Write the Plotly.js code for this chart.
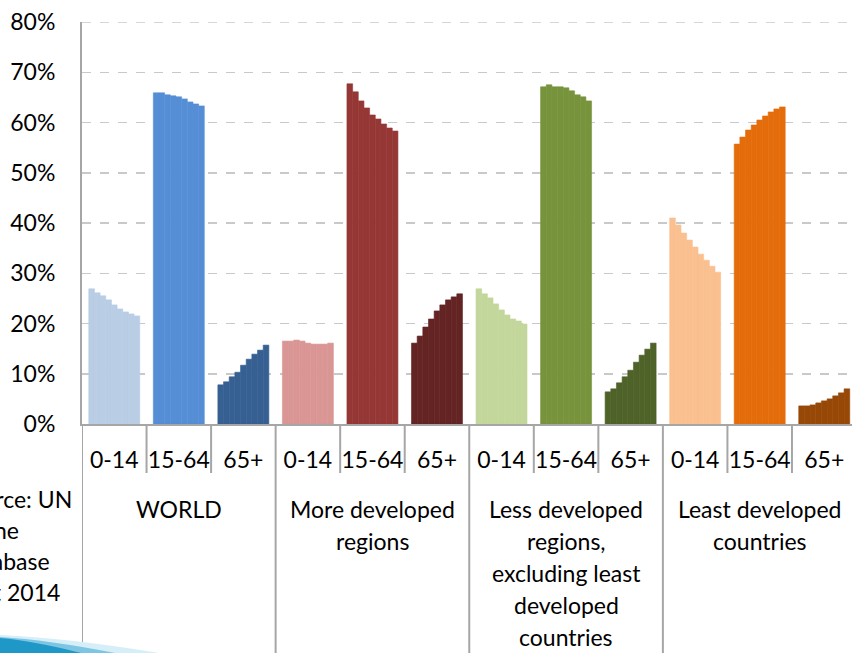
<!DOCTYPE html>
<html>
<head>
<meta charset="utf-8">
<script src="https://cdn.plot.ly/plotly-3.0.1.min.js"></script>
<style>
html, body { margin: 0; padding: 0; background: #ffffff; overflow: hidden; }
#chart { width: 852px; height: 653px; }
</style>
</head>
<body>
<div id="chart"></div>
<script>
// ---- Data ----
const years = ['2010', '2015', '2020', '2025', '2030', '2035', '2040', '2045', '2050'];
const groups = ['WORLD', 'More developed regions', 'Less developed regions, excluding least developed countries', 'Least developed countries'];
const groupLabelLines = [
  ['WORLD'],
  ['More developed', 'regions'],
  ['Less developed', 'regions,', 'excluding least', 'developed', 'countries'],
  ['Least developed', 'countries']
];
const ages = ['0-14', '15-64', '65+'];

const world_0_14   = [26.9, 26.1, 25.5, 24.7, 23.7, 22.9, 22.3, 21.9, 21.5];
const world_15_64  = [65.9, 65.9, 65.5, 65.3, 65.1, 64.7, 64.1, 63.7, 63.3];
const world_65     = [7.8, 8.4, 9.4, 10.3, 11.7, 12.9, 13.9, 14.7, 15.7];

const moreDev_0_14  = [16.5, 16.5, 16.7, 16.5, 16.1, 15.9, 15.9, 15.9, 16.1];
const moreDev_15_64 = [67.7, 66.1, 64.3, 62.9, 61.5, 60.7, 59.7, 58.9, 58.3];
const moreDev_65    = [16.1, 17.5, 19.3, 20.9, 22.5, 23.7, 24.7, 25.3, 25.9];

const lessDev_0_14  = [26.9, 25.9, 25.1, 23.9, 22.7, 21.7, 20.9, 20.5, 19.9];
const lessDev_15_64 = [67.1, 67.5, 67.1, 67.1, 66.9, 66.3, 65.5, 65.1, 64.3];
const lessDev_65    = [6.4, 7.0, 8.2, 9.4, 10.7, 12.3, 13.7, 14.9, 16.1];

const leastDev_0_14  = [41.0, 39.6, 38.0, 36.6, 35.2, 33.8, 32.6, 31.4, 30.2];
const leastDev_15_64 = [55.7, 57.1, 58.5, 59.5, 60.5, 61.3, 62.1, 62.7, 63.1];
const leastDev_65    = [3.6, 3.6, 3.8, 4.2, 4.6, 5.0, 5.6, 6.2, 7.0];

const seriesByCategory = [
  world_0_14, world_15_64, world_65,
  moreDev_0_14, moreDev_15_64, moreDev_65,
  lessDev_0_14, lessDev_15_64, lessDev_65,
  leastDev_0_14, leastDev_15_64, leastDev_65
];
const categoryColors = [
  '#B9CDE5', '#558ED5', '#376092',
  '#D99694', '#953735', '#632423',
  '#C3D69B', '#77933C', '#4F6228',
  '#FAC090', '#E46C0A', '#974806'
];
const sourceLines = ['Source: UN', 'Online', 'Database', 'August 2014'];

// ---- Layout geometry (pixels) ----
const W = 852, H = 653;
const M = { l: 82, r: 0, t: 22, b: 229 };
const plotW = W - M.l - M.r, plotH = H - M.t - M.b;
const px2x = px => (px - M.l) / plotW;
const py2y = py => (H - M.b - py) / plotH;

const FONT = 'Lato, "Open Sans", sans-serif';

// category ids
const catIds = [];
const catTicks = [];
groups.forEach(g => ages.forEach(a => { catIds.push(g + ' | ' + a); catTicks.push(a); }));

// one trace per year, grouped
const traces = years.map((yr, i) => ({
  type: 'bar',
  name: yr,
  x: catIds,
  y: seriesByCategory.map(s => s[i]),
  marker: { color: categoryColors, line: { width: 0.6, color: categoryColors } },
  hoverinfo: 'x+y+name',
  showlegend: false
}));

const shapes = [];
const GRAY = '#a6a6a6';
// top gridline at 80%
shapes.push({
  type: 'line', xref: 'paper', yref: 'y', x0: 0, x1: 1, y0: 80, y1: 80,
  line: { color: '#c9c9c9', width: 1.5, dash: 'dash' }
});
// boundaries between categories
for (let k = 0; k <= catIds.length; k++) {
  const isGroup = (k % 3 === 0);
  shapes.push({
    type: 'line', xref: 'x', yref: 'paper',
    x0: k - 0.5, x1: k - 0.5,
    y0: 0, y1: isGroup ? py2y(H + 2) : py2y(473),
    line: { color: GRAY, width: 2 }
  });
}
// decorative swoosh bottom-left
shapes.push({
  type: 'path', xref: 'paper', yref: 'paper', layer: 'above',
  path: `M ${px2x(0)},${py2y(635)} Q ${px2x(70)},${py2y(638)} ${px2x(165)},${py2y(654)} L ${px2x(0)},${py2y(654)} Z`,
  fillcolor: '#d6eef8', line: { width: 0 }
});
shapes.push({
  type: 'path', xref: 'paper', yref: 'paper', layer: 'above',
  path: `M ${px2x(0)},${py2y(637)} Q ${px2x(50)},${py2y(640)} ${px2x(120)},${py2y(654)} L ${px2x(0)},${py2y(654)} Z`,
  fillcolor: '#7cc6e4', line: { width: 0 }
});
shapes.push({
  type: 'path', xref: 'paper', yref: 'paper', layer: 'above',
  path: `M ${px2x(0)},${py2y(638)} Q ${px2x(35)},${py2y(641)} ${px2x(85)},${py2y(654)} L ${px2x(0)},${py2y(654)} Z`,
  fillcolor: '#1f98c8', line: { width: 0 }
});

const annotations = [];
groupLabelLines.forEach((lines, g) => {
  lines.forEach((ln, i) => {
    annotations.push({
      xref: 'x', yref: 'paper', x: g * 3 + 1, y: py2y(509 + 32 * i),
      xanchor: 'center', yanchor: 'middle', showarrow: false,
      text: ln, font: { family: FONT, size: 23, color: '#000000' }
    });
  });
});
const sourceRight = [72, 19, 50, 60];
sourceLines.forEach((ln, i) => {
  annotations.push({
    xref: 'paper', yref: 'paper', x: px2x(sourceRight[i] + 2), y: py2y(499 + 31 * i),
    xanchor: 'right', yanchor: 'middle', showarrow: false,
    text: ln, font: { family: FONT, size: 23, color: '#000000' }
  });
});

const layout = {
  width: W, height: H,
  margin: M,
  paper_bgcolor: '#ffffff', plot_bgcolor: '#ffffff',
  barmode: 'group', bargap: 0.21, bargroupgap: 0,
  font: { family: FONT, size: 22, color: '#000000' },
  xaxis: {
    type: 'category',
    categoryorder: 'array', categoryarray: catIds,
    tickvals: catIds, ticktext: catTicks,
    range: [-0.5, 11.43],
    ticks: '', showgrid: false, zeroline: false,
    showline: true, linecolor: GRAY, linewidth: 2,
    tickfont: { family: FONT, size: 23, color: '#000000' },
    ticklabelstandoff: 14,
    fixedrange: true
  },
  yaxis: {
    range: [0, 80], dtick: 10, tick0: 0,
    ticksuffix: '%',
    showgrid: true, gridcolor: '#c9c9c9', gridwidth: 1.5, griddash: 'dash',
    zeroline: false,
    showline: true, linecolor: GRAY, linewidth: 2,
    ticks: '', ticklabelstandoff: 20,
    tickfont: { family: FONT, size: 23, color: '#000000' },
    fixedrange: true
  },
  shapes: shapes,
  annotations: annotations
};

Plotly.newPlot('chart', traces, layout, { displayModeBar: false, staticPlot: true });
</script>
</body>
</html>
